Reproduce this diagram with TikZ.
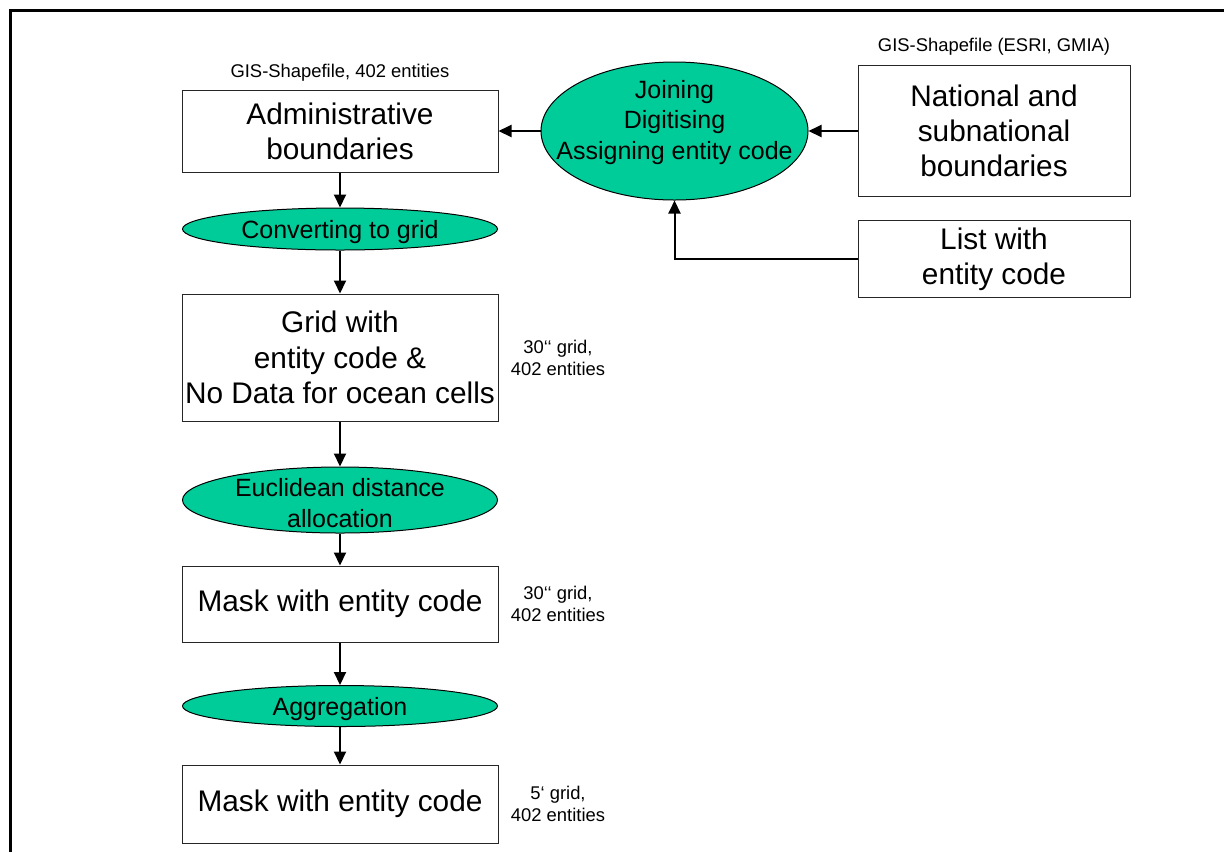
\documentclass[tikz,border=0pt]{standalone}
\usepackage{fontspec}
\setmainfont{Liberation Sans}
\usetikzlibrary{arrows.meta, positioning, shapes.geometric}
\definecolor{procgreen}{RGB}{0,204,153}

\begin{document}
\begin{tikzpicture}[
        x=0.5pt, y=-0.5pt,
        box/.style={rectangle, draw=black!85, line width=0.5pt, minimum width=158pt, inner xsep=1pt, align=center, font=\fontsize{14.9}{17.6}\selectfont},
        proc/.style={ellipse, draw, line width=0.5pt, fill=procgreen, inner sep=0pt, minimum width=157.5pt},
        proctext/.style={align=center, inner sep=0pt, yshift=-1.5pt, font=\fontsize{12.5}{15.25}\selectfont},
        note/.style={align=center, inner sep=0pt, font=\fontsize{9.2}{11}\selectfont},
        arrow/.style={-{Triangle[length=6.5pt, width=6pt]}, line width=1pt}
    ]
        \useasboundingbox (0,0) rectangle (1224,852);
        \draw[line width=1.5pt] (10.5,852) -- (10.5,10.5) -- (1224,10.5);

        % processing chain down the left side
        \node[box, minimum height=41pt] (admin) at (340,131) {Administrative\\boundaries};
        \node[proc, minimum height=21pt, below of=admin, node distance=49pt] (conv) {};
        \node[proctext] (conv txt) at (conv) {Converting to grid};
        \node[box, minimum height=63.5pt, below of=conv, node distance=64.25pt] (grid) {Grid with\\entity code \&\\No Data for ocean cells};
        \node[proc, minimum height=33pt, below of=grid, node distance=71.25pt] (eucl) {};
        \node[proctext] (eucl txt) at (eucl) {Euclidean distance\\allocation};
        \node[box, minimum height=38pt, below of=eucl, node distance=52pt] (mask) {Mask with entity code};
        \node[proc, minimum height=20.5pt, below of=mask, node distance=51pt] (aggr) {};
        \node[proctext] (aggr txt) at (aggr) {Aggregation};
        \node[box, minimum height=39pt, below of=aggr, node distance=49pt] (mask5) {Mask with entity code};

        % data notes
        \node[note, above of=admin, node distance=29pt] (admin src) {GIS-Shapefile, 402 entities};
        \node[note, right of=grid, node distance=109pt] (grid res) {30‘‘ grid,\\402 entities};
        \node[note, right of=mask, node distance=109pt] (mask res) {30‘‘ grid,\\402 entities};
        \node[note, right of=mask5, node distance=109pt] (mask5 res) {5‘ grid,\\402 entities};

        % input side
        \node[proc, minimum width=133.5pt, minimum height=69pt] (join) at (674.5,131) {};
        \node[proctext] (join txt) at ([yshift=5.75pt]join.center) {Joining\\Digitising\\Assigning entity code};
        \node[box, minimum width=136pt, minimum height=65.5pt, right of=join, node distance=159.75pt] (natl) {National and\\subnational\\boundaries};
        \node[box, minimum width=136pt, minimum height=38pt, below of=natl, node distance=64pt] (list) {List with\\entity code};
        \node[note, above of=natl, node distance=42pt] (natl src) {GIS-Shapefile (ESRI, GMIA)};

        \draw[arrow] (join) -- (admin);
        \draw[arrow] (natl) -- (join);
        \draw[arrow] (list.west) -| (join.south);
        \draw[arrow] (admin) -- (conv);
        \draw[arrow] (conv) -- (grid);
        \draw[arrow] (grid) -- (eucl);
        \draw[arrow] (eucl) -- (mask);
        \draw[arrow] (mask) -- (aggr);
        \draw[arrow] (aggr) -- (mask5);
    \end{tikzpicture}
\end{document}
